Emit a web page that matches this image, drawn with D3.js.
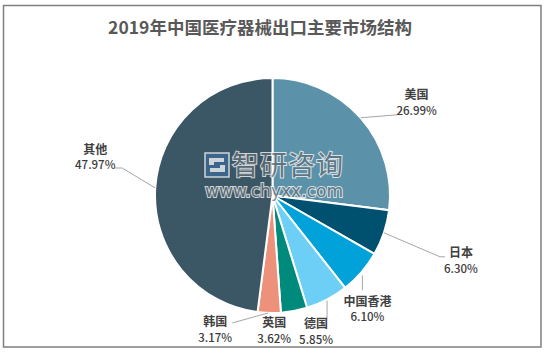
<!DOCTYPE html>
<html>
<head>
<meta charset="utf-8">
<script src="https://cdn.jsdelivr.net/npm/d3@7"></script>
<style>
  body { margin: 0; background: #fff; }
  svg { display: block; font-family: "Noto Sans CJK SC", "Noto Sans", sans-serif; }
</style>
</head>
<body>
<svg id="drawing_region"></svg>
<script>
// 数据
const categories = ["美国", "日本", "中国香港", "德国", "英国", "韩国", "其他"];
const shares = [26.99, 6.30, 6.10, 5.85, 3.62, 3.17, 47.97];
const colors = ["#5b91a9", "#005070", "#00a2d9", "#6dcff5", "#008a7c", "#ee917a", "#3b5664"];

// 标签相对扇区外缘点的偏移, 以及引导线折点
const labelLayout = {
    "美国":   { dx: 56,  dy: -23, leader: [[0, 0], [37, -3]] },
    "日本":   { dx: 77,  dy: 20,  leader: [[0, 0], [56, 24], [61, 24]] },
    "中国香港": { dx: 6,   dy: 29,  leader: [[1, 3], [1, 18]] },
    "德国":   { dx: -11, dy: 24,  leader: [[0, 1], [0, 19]] },
    "英国":   { dx: -20, dy: 12,  leader: [] },
    "韩国":   { dx: -54, dy: 9,   leader: [[-1, 0], [-37, 10]] },
    "其他":   { dx: -60, dy: -39, leader: [[0, 0], [-33, -20], [-40, -20]] }
};

const config = {
    width: 548,
    height: 353,
    cx: 272.5,
    cy: 195.5,
    radius: 117.5
};

const data = categories.map((c, i) => ({ name: c, value: shares[i], color: colors[i] }));

const svg = d3.select("#drawing_region")
    .attr("width", config.width)
    .attr("height", config.height);

// 外框
svg.append("rect")
    .attr("x", 3.5).attr("y", 5.5)
    .attr("width", 537.5).attr("height", 341.5)
    .attr("fill", "#fff")
    .attr("stroke", "#7f7f7f")
    .attr("stroke-width", 1.5);

// 标题
svg.append("text")
    .attr("x", 260).attr("y", 34)
    .attr("text-anchor", "middle")
    .attr("font-size", 17.5)
    .attr("font-weight", "bold")
    .attr("fill", "#595959")
    .text("2019年中国医疗器械出口主要市场结构");

const pie = d3.pie().sort(null).value(d => d.value);
const arc = d3.arc().innerRadius(0).outerRadius(config.radius);
const arcs = pie(data);

const chart = svg.append("g")
    .attr("transform", `translate(${config.cx},${config.cy})`);

chart.selectAll("path.slice")
    .data(arcs)
    .enter()
    .append("path")
    .attr("class", "slice")
    .attr("d", arc)
    .attr("fill", d => d.data.color)
    .attr("stroke", "#fff")
    .attr("stroke-width", 2);

// 扇区外缘中点
const edgePoint = d => {
    const a = (d.startAngle + d.endAngle) / 2;
    return [config.radius * Math.sin(a), -config.radius * Math.cos(a)];
};

// 引导线
chart.selectAll("polyline.leader")
    .data(arcs.filter(d => labelLayout[d.data.name].leader.length))
    .enter()
    .append("polyline")
    .attr("class", "leader")
    .attr("points", d => {
        const p = edgePoint(d);
        return labelLayout[d.data.name].leader.map(o => [p[0] + o[0], p[1] + o[1]].join(",")).join(" ");
    })
    .attr("fill", "none")
    .attr("stroke", "#a6a6a6")
    .attr("stroke-width", 1);

// 标签
const labels = chart.selectAll("g.label")
    .data(arcs)
    .enter()
    .append("g")
    .attr("class", "label")
    .attr("transform", d => {
        const p = edgePoint(d);
        const l = labelLayout[d.data.name];
        return `translate(${p[0] + l.dx},${p[1] + l.dy})`;
    });

labels.append("text")
    .attr("y", 4.5)
    .attr("text-anchor", "middle")
    .attr("font-size", 12)
    .attr("font-weight", "bold")
    .attr("fill", "#404040")
    .text(d => d.data.name);

labels.append("text")
    .attr("y", 20)
    .attr("text-anchor", "middle")
    .attr("font-size", 11.5)
    .attr("font-weight", 500)
    .attr("fill", "#3a3a3a")
    .text(d => d.data.value.toFixed(2) + "%");

// 水印
const wm = svg.append("g").attr("opacity", 0.75);
const logo = wm.append("g").attr("transform", "translate(205,153)");
logo.append("rect").attr("width", 24).attr("height", 24).attr("fill", "#3d6a9a").attr("stroke", "#fff").attr("stroke-width", 1.5);
logo.append("path")
    .attr("d", "M4,5 H19 V9 H9 V12 H4 Z M15,12 H20 V19 H5 V15 H15 Z")
    .attr("fill", "#fff");
wm.append("text")
    .attr("x", 232).attr("y", 175)
    .attr("font-size", 27)
    .attr("textLength", 111)
    .attr("fill", "#626c73")
    .attr("stroke", "#fff")
    .attr("stroke-width", 2)
    .attr("paint-order", "stroke")
    .text("智研咨询");
wm.append("text")
    .attr("x", 205).attr("y", 197)
    .attr("font-size", 17)
    .attr("font-family", "DejaVu Sans, sans-serif")
    .attr("textLength", 138)
    .attr("lengthAdjust", "spacingAndGlyphs")
    .attr("fill", "#626c73")
    .attr("stroke", "#fff")
    .attr("stroke-width", 2)
    .attr("paint-order", "stroke")
    .text("www.chyxx.com");
</script>
</body>
</html>
